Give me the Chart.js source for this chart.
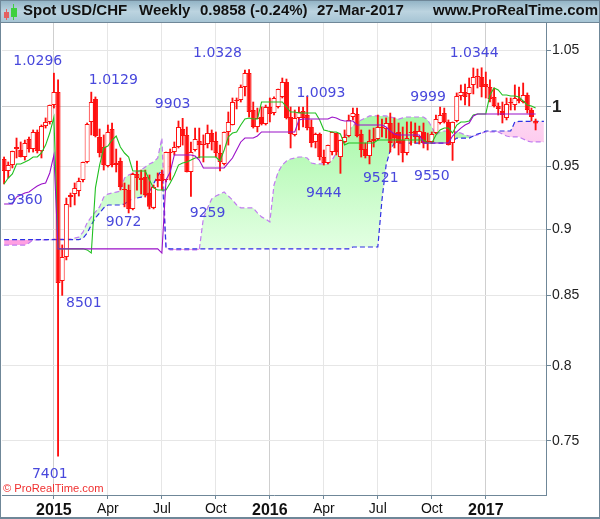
<!DOCTYPE html>
<html><head><meta charset="utf-8">
<script src="https://cdn.jsdelivr.net/npm/chart.js@4"></script>
<style>html,body{margin:0;padding:0;background:#fff}canvas{display:block}</style>
</head><body><canvas id="c" width="600" height="519"></canvas>
<script>
const slotCount = 131;
const tickIndex = [12,25,38,51,64,77,90,103,116];
const tickLabels = ['2015','Apr','Jul','Oct','2016','Apr','Jul','Oct','2017'];
const yTicks = [0.75,0.8,0.85,0.9,0.95,1,1.05];
const opens = [.9562,.9463,.9512,.9644,.9636,.9578,.9728,.9644,.9787,.9627,
.9837,.9872,1.0017,1.0130,.8607,.8787,.9269,.9277,.9301,.9390,
.9537,.9872,1.0069,.9745,.9661,.9504,.9812,.9529,.9545,.9318,
.9309,.9159,.9439,.9406,.9415,.9285,.9167,.9382,.9439,.9390,
.9611,.9619,.9661,.9812,.9762,.9455,.9636,.9711,.9686,.9686,
.9778,.9711,.9611,.9521,.9787,.9846,1.0052,1.0060,1.0174,1.0298,
.9974,.9829,.9914,.9854,1.0,.9948,1.0,1.0087,1.0218,.9914,
.9762,.9906,.9966,.9931,.9829,.9703,.9770,.9578,.9529,.9619,
.9778,.9578,.9703,.9753,.9914,.9940,.9770,.9644,.9586,.9711,
.9728,.9820,.9812,.9863,.9778,.9787,.9719,.9611,.9778,.9795,
.9745,.9787,.9711,.9703,.9778,.9863,.9948,.9872,.9694,.9880,
1.0095,1.0130,1.0113,1.0192,1.0262,1.0262,1.0200,1.0174,1.0087,1.0009,
.9966,.9906,1.0035,1.0017,1.0052,1.0043,1.0104,.9974,.9880];
const closes = [.9463,.9512,.9627,.9661,.9578,.9694,.9644,.9787,.9627,.9837,
.9872,1.0017,1.0130,.8592,.8787,.9198,.9253,.9326,.9382,.9537,
.9854,1.0043,.9753,.9611,.9512,.9787,.9512,.9512,.9334,.9309,
.9159,.9439,.9406,.9390,.9269,.9175,.9334,.9398,.9382,.9619,
.9619,.9661,.9829,.9753,.9455,.9619,.9728,.9677,.9677,.9778,
.9703,.9611,.9537,.9787,.9872,1.0043,1.0060,1.0174,1.0298,.9957,
.9829,.9906,.9854,1.0,.9940,1.0078,1.0156,1.0218,.9906,.9770,
.9906,.9957,.9906,.9820,.9694,.9770,.9578,.9529,.9677,.9787,
.9619,.9719,.9745,.9889,.9948,.9753,.9636,.9586,.9711,.9728,
.9829,.9829,.9863,.9694,.9736,.9694,.9611,.9736,.9787,.9745,
.9795,.9694,.9703,.9770,.9897,.9931,.9872,.9677,.9872,1.0095,
1.0130,1.0087,1.0174,1.0262,1.0271,1.0174,1.0174,1.0069,1.0009,.9983,
.9931,1.0026,1.0043,1.0078,1.0069,1.0104,.9974,.9914,.9858];
const highs = [.9578,.9537,.9627,.9736,.9703,.9719,.9745,.9804,.9804,.9846,
.9906,1.0017,1.0296,1.0236,.8879,.9245,.9285,.9366,.9406,.9537,
.9863,1.0129,1.0087,.9812,.9762,.9846,.9863,.9644,.9570,.9366,
.9350,.9447,.9545,.9471,.9471,.9431,.9350,.9447,.9471,.9619,
.9644,.9703,.9880,.9903,.9829,.9703,.9820,.9820,.9762,.9846,
.9804,.9787,.9677,.9787,.9957,1.0078,1.0078,1.0192,1.0324,1.0328,
1.0043,.9991,1.0,1.0017,1.0078,1.0087,1.0156,1.0253,1.0244,1.0,
.9974,1.0,1.0,1.0093,.9889,.9778,.9778,.9636,.9677,.9787,
.9778,.9719,.9804,.9931,.9991,.9991,.9804,.9694,.9804,.9820,
.9931,.9897,.9906,.9948,.9906,.9863,.9829,.9872,.9872,.9863,
.9837,.9863,.9778,.9787,.9931,.9999,.9991,.9889,.9872,1.0122,
1.0192,1.0200,1.0253,1.0342,1.0333,1.0344,1.0306,1.0236,1.0165,1.0035,
1.0043,1.0078,1.0078,1.0192,1.0174,1.0209,1.0122,.9991,.9897];
const lows = [.9358,.9406,.9488,.9570,.9578,.9553,.9619,.9619,.9611,.9570,
.9820,.9854,.9991,.7401,.8501,.8765,.9175,.9190,.9261,.9374,
.9529,.9762,.9745,.9578,.9471,.9496,.9496,.9455,.9309,.9175,
.9127,.9151,.9309,.9277,.9253,.9159,.9159,.9334,.9309,.9374,
.9390,.9595,.9653,.9677,.9455,.9259,.9627,.9570,.9537,.9653,
.9636,.9578,.9463,.9512,.9677,.9846,.9983,1.0043,1.0095,.9914,
.9820,.9787,.9846,.9846,.9872,.9931,.9991,1.0078,.9897,.9653,
.9753,.9804,.9829,.9804,.9661,.9653,.9553,.9512,.9521,.9595,
.9595,.9444,.9694,.9745,.9889,.9745,.9578,.9570,.9521,.9661,
.9719,.9745,.9736,.9619,.9653,.9595,.9537,.9595,.9677,.9694,
.9686,.9653,.9636,.9694,.9770,.9854,.9863,.9677,.9550,.9872,
1.0060,1.0017,1.0009,1.0113,1.0165,1.0087,1.0078,1.0043,1.0,.9931,
.9863,.9889,.9974,.9974,1.0035,1.0035,.9948,.9880,.9804];
const tenkan = [.9358,.9406,.9439,.9521,.9521,.9537,.9553,.9578,.9578,.9611,
.9677,.9778,.9914,.8849,.8849,.8849,.8849,.8849,.8849,.8849,
.8841,.8817,.9326,.9512,.9653,.9669,.9719,.9753,.9661,.9611,
.9578,.9463,.9463,.9463,.9463,.9390,.9326,.9309,.9309,.9309,
.9366,.9431,.9512,.9529,.9537,.9553,.9570,.9578,.9578,.9578,
.9578,.9578,.9545,.9636,.9745,.9778,.9787,.9846,.9897,.9906,
.9897,.9897,1.0043,1.0043,1.0043,1.0043,1.0043,1.0043,1.0,.9957,
.9957,.9948,.9948,.9948,.9948,.9948,.9889,.9804,.9795,.9787,
.9787,.9770,.9677,.9694,.9694,.9694,.9694,.9694,.9694,.9694,
.9719,.9719,.9719,.9719,.9719,.9719,.9719,.9719,.9719,.9719,
.9719,.9719,.9694,.9694,.9762,.9804,.9820,.9820,.9778,.9846,
.9872,.9872,.9880,.9931,.9940,.9940,.9940,1.0104,1.0165,1.0148,
1.0104,1.0104,1.0095,1.0095,1.0087,1.0052,1.0017,1.0009,.9991];
const kijun = [.9198,.9198,.9198,.9253,.9269,.9285,.9293,.9318,.9342,.9358,
.9366,.9447,.9595,.8849,.8849,.8849,.8849,.8849,.8849,.8849,
.8849,.8849,.8849,.8849,.8849,.8849,.8849,.8849,.8849,.8849,
.8849,.8849,.8849,.8849,.8849,.8849,.8849,.8849,.8817,.9390,
.9455,.9595,.9595,.9595,.9595,.9595,.9586,.9553,.9488,.9488,
.9488,.9488,.9488,.9488,.9529,.9570,.9636,.9703,.9736,.9736,
.9736,.9753,.9787,.9787,.9787,.9787,.9787,.9787,.9787,.9787,
.9787,.9889,.9897,.9897,.9897,.9897,.9897,.9897,.9897,.9914,
.9906,.9889,.9880,.9880,.9880,.9846,.9846,.9846,.9846,.9846,
.9846,.9846,.9829,.9795,.9770,.9762,.9762,.9762,.9762,.9762,
.9762,.9694,.9694,.9694,.9694,.9694,.9694,.9694,.9753,.9787,
.9820,.9846,.9863,.9923,.9940,.9940,.9940,.9940,.9940,.9940,
.9940,.9940,.9940,.9940,.9940,.9940,.9940,.9940,.9940];
const spanA = [.8878,.8878,.8878,.8878,.8878,.8878,.8894,.8917,.8917,.8917,
.8917,.8917,.8923,.8923,.8923,.8923,.8923,.8931,.8939,.8977,
.9049,.9096,.9135,.9175,.9253,.9277,.9285,.9293,.9301,.9406,
.9431,.9447,.9455,.9471,.9496,.9521,.9537,.9570,.9736,.8855,
.8841,.8841,.8841,.8841,.8841,.8841,.8841,.8841,.9088,.9167,
.9238,.9261,.9277,.9293,.9261,.9230,.9190,.9167,.9167,.9167,
.9167,.9127,.9096,.9080,.9057,.9350,.9455,.9512,.9545,.9562,
.9570,.9578,.9578,.9570,.9529,.9521,.9521,.9521,.9521,.9553,
.9611,.9661,.9745,.9804,.9837,.9872,.9889,.9906,.9923,.9923,
.9923,.9923,.9923,.9914,.9906,.9897,.9906,.9914,.9914,.9914,
.9914,.9914,.9889,.9829,.9762,.9787,.9795,.9795,.9795,.9787,
.9778,.9762,.9753,.9753,.9762,.9778,.9787,.9787,.9787,.9787,
.9770,.9753,.9745,.9745,.9745,.9728,.9711,.9703,.9703,.9703,.9703];
const spanB = [.8919,.8919,.8919,.8919,.8919,.8919,.8919,.8919,.8919,.8919,
.8919,.8919,.8919,.8919,.8919,.8919,.8919,.8919,.8919,.8931,
.8969,.9033,.9088,.9127,.9167,.9190,.9190,.9190,.9190,.9198,
.9222,.9238,.9245,.9253,.9261,.9293,.9358,.9423,.9471,.8855,
.8849,.8849,.8849,.8849,.8849,.8849,.8849,.8849,.8849,.8849,
.8849,.8849,.8849,.8849,.8849,.8849,.8849,.8849,.8849,.8849,
.8849,.8849,.8849,.8849,.8849,.8849,.8849,.8849,.8849,.8849,
.8849,.8849,.8849,.8849,.8849,.8849,.8849,.8849,.8849,.8849,
.8849,.8849,.8849,.8849,.8863,.8863,.8863,.8863,.8863,.8863,
.8863,.9230,.9512,.9636,.9694,.9694,.9694,.9694,.9694,.9694,
.9694,.9694,.9694,.9694,.9694,.9694,.9694,.9694,.9711,.9736,
.9736,.9736,.9736,.9753,.9770,.9778,.9795,.9795,.9795,.9795,
.9795,.9795,.9795,.9872,.9876,.9876,.9876,.9876,.9876,.9876,.9876];
const noteTexts = ['1.0296','1.0129','9903','1.0328','1.0093','1.0344','9999','9360','9072','9259','9444','9521','9550','8501','7401'];
const noteSlots = [8.1,26.3,40.6,51.4,76.3,113.2,102.1,5,28.8,49,77,90.7,103,19.2,11];
const noteValues = [1.0405,1.0236,1.0026,1.0469,1.0122,1.0477,1.0087,.923,.9057,.9127,.9285,.9406,.9423,.8445,.7285];
const headerTexts = ['Spot USD/CHF','Weekly','0.9858 (-0.24%)','27-Mar-2017','www.ProRealTime.com'];
const headerLeft = [23,139,200,317,433];

const categories = Array.from({length:slotCount},(_,i)=>{const k=tickIndex.indexOf(i);return k>=0?tickLabels[k]:'';});
const bodies = opens.map((o,i)=>[o,closes[i]]);
const wicks = lows.map((l,i)=>[l,highs[i]]);
const RED='#ff0f0f', FRAME='#6f8798';
const canvas=document.getElementById('c'), g=canvas.getContext('2d');
const greenGrad=g.createLinearGradient(0,115,0,250);
greenGrad.addColorStop(0,'#a6f8a6');greenGrad.addColorStop(1,'#e4ffe4');
const pinkGrad=g.createLinearGradient(0,120,0,245);
pinkGrad.addColorStop(0,'#fdd6f2');pinkGrad.addColorStop(1,'#ff9fe2');

const chrome={id:'chrome',
 beforeDraw(c){const x=c.ctx;x.save();
  x.fillStyle='#fff';x.fillRect(0,0,600,519);
  const h=x.createLinearGradient(0,0,0,23);
  h.addColorStop(0,'#8fb1c3');h.addColorStop(.5,'#bcd4e0');h.addColorStop(1,'#a4c3d3');
  x.fillStyle=h;x.fillRect(0,0,600,22);
  x.fillStyle=FRAME;x.fillRect(0,22,600,1);x.fillRect(0,0,600,1);
  x.fillRect(0,0,1,519);x.fillRect(599,0,1,519);x.fillRect(0,517,600,2);
  x.fillStyle='#e46060';x.fillRect(4,12,5,6);x.fillRect(6,9,1,11);
  x.fillStyle='#3fd03f';x.fillRect(11,8,6,9);x.fillRect(13,4,1,16);
  x.restore();},
 afterDraw(c){const x=c.ctx,sx=c.scales.x,sy=c.scales.y;x.save();
  x.textBaseline='middle';x.textAlign='left';x.fillStyle='#111';x.font='bold 15px "Liberation Sans"';
  headerTexts.forEach((t,i)=>x.fillText(t,headerLeft[i],11));
  x.textAlign='center';x.fillStyle='#4848dc';x.font='14px "DejaVu Sans"';
  noteTexts.forEach((t,i)=>x.fillText(t,sx.getPixelForValue(noteSlots[i]),sy.getPixelForValue(noteValues[i])));
  x.textAlign='left';x.fillStyle='#f03030';x.font='11.2px "Liberation Sans"';
  x.fillText('© ProRealTime.com',3,489);
  x.restore();}
};

new Chart(canvas,{
 type:'bar',
 plugins:[chrome],
 data:{labels:categories,datasets:[
  {type:'line',label:'Senkou A',data:spanA,borderColor:'#c07cf0',borderWidth:1.2,borderDash:[5,3],pointRadius:0,tension:0,order:6,
   fill:{target:1,above:greenGrad,below:pinkGrad}},
  {type:'line',label:'Senkou B',data:spanB,borderColor:'#3030e4',borderWidth:1.2,borderDash:[5,3],pointRadius:0,tension:0,order:5,fill:false},
  {label:'Range',data:wicks,backgroundColor:RED,borderWidth:0,barThickness:1.2,grouped:false,order:4},
  {label:'Body',data:bodies,grouped:false,order:3,barThickness:5,borderWidth:1,inflateAmount:0,borderColor:RED,borderSkipped:false,
   backgroundColor:ctx=>closes[ctx.dataIndex]>=opens[ctx.dataIndex]?'#ffffff':RED},
  {type:'line',label:'Tenkan',data:tenkan,borderColor:'#20c020',borderWidth:1.1,pointRadius:0,tension:0,fill:false,order:2},
  {type:'line',label:'Kijun',data:kijun,borderColor:'#9a10c8',borderWidth:1.1,pointRadius:0,tension:0,fill:false,order:1}
 ]},
 options:{responsive:false,animation:false,devicePixelRatio:1,
  layout:{padding:{left:2,top:23,right:0,bottom:0}},
  plugins:{legend:{display:false},tooltip:{enabled:false},title:{display:false}},
  scales:{
   x:{type:'category',offset:true,
    afterBuildTicks:s=>{s.ticks=tickIndex.map(v=>({value:v}));},
    afterFit:s=>{s.height=24;},
    grid:{offset:false,tickLength:4,lineWidth:1,
      color:ctx=>{const l=tickLabels[tickIndex.indexOf(ctx.tick&&ctx.tick.value)];return /^20/.test(l||'')?'#cfcfcf':'#e6e6e6';},
      tickColor:FRAME},
    border:{color:FRAME,width:1},
    ticks:{autoSkip:false,maxRotation:0,minRotation:0,padding:2,color:'#111',
      callback:function(v){return this.getLabelForValue(v);},
      font:ctx=>/^20/.test(String(ctx.tick&&ctx.tick.label))?{family:'Liberation Sans',size:16,weight:'bold'}:{family:'Liberation Sans',size:14}}
   },
   y:{type:'logarithmic',position:'right',min:.7157,max:1.0751,
    afterBuildTicks:s=>{s.ticks=yTicks.map(v=>({value:v}));},
    afterFit:s=>{s.width=54;},
    grid:{tickLength:5,lineWidth:1,color:ctx=>ctx.tick&&ctx.tick.value===1?'#cfcfcf':'#e6e6e6',tickColor:FRAME},
    border:{color:FRAME,width:1},
    ticks:{padding:1,color:'#222',
      callback:v=>String(v),
      font:ctx=>ctx.tick&&ctx.tick.value===1?{family:'Liberation Sans',size:17,weight:'bold'}:{family:'Liberation Sans',size:14}}
   }
  }
 }
});
</script></body></html>
